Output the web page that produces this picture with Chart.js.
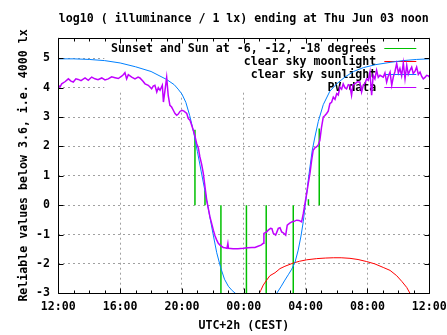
<!DOCTYPE html>
<html><head><meta charset="utf-8">
<script src="https://cdn.jsdelivr.net/npm/chart.js@4"></script>
<style>html,body{margin:0;padding:0;background:#fff;} canvas{display:block}</style>
</head><body>
<canvas id="c" width="447" height="335"></canvas>
<script>
// ---- data (hours after 12:00 of the previous day; log10 illuminance) ----
const titleText = 'log10 ( illuminance / 1 lx) ending at Thu Jun 03 noon';
const xTitle = 'UTC+2h (CEST)';
const yTitle = 'Reliable values below 3.6, i.e. 4000 lx';
const xTickValues = [0, 4, 8, 12, 16, 20, 24];
const xTickLabels = ['12:00', '16:00', '20:00', '00:00', '04:00', '08:00', '12:00'];
const yTickValues = [-3, -2, -1, 0, 1, 2, 3, 4, 5];
const legendLabels = ['Sunset and Sun at -6, -12, -18 degrees', 'clear sky moonlight', 'clear sky sunlight', 'PV data'];

const eventHours = [8.84, 9.49, 10.52, 12.17, 13.45, 15.20, 16.18, 16.88];
const eventEnds  = [2.57, 0.51, -3, -3, -3, -3, 0.2, 2.61];

const moonHours  = [12.95, 13.1, 13.26, 13.48, 13.69, 14.02, 14.34, 14.66, 15.2, 15.6, 16.07, 16.71, 17.3, 17.79, 18.3, 18.87, 19.39, 19.95, 20.48, 21.02, 21.46, 21.89, 22.23, 22.54, 22.75, 22.85];
const moonValues = [-3.05, -2.9, -2.72, -2.55, -2.40, -2.30, -2.16, -2.08, -1.97, -1.91, -1.86, -1.82, -1.80, -1.79, -1.79, -1.81, -1.85, -1.92, -2.00, -2.12, -2.22, -2.40, -2.60, -2.80, -3.0, -3.15];

const sunHours  = [0, 1, 2, 3, 4, 5, 6, 7, 7.5, 7.75, 8, 8.25, 8.5, 8.75, 9, 9.25, 9.5, 9.75, 10, 10.25, 10.5, 10.75, 11, 11.25, 11.5, 11.75,
                   12.8,
                   13.95, 14.13, 14.4, 14.66, 14.9, 15.1, 15.31, 15.52, 15.7, 15.85, 15.96, 16.07, 16.17, 16.28, 16.43, 16.6, 16.82, 17.14, 17.57, 18.01, 18.54, 19.1, 19.73, 20.5, 21.46, 22.3, 23.18, 24];
const sunValues = [4.98, 4.98, 4.96, 4.92, 4.84, 4.71, 4.55, 4.28, 4.10, 3.95, 3.78, 3.50, 3.05, 2.50, 1.82, 1.13, 0.45, -0.25, -0.95, -1.62, -2.12, -2.52, -2.76, -2.91, -3.02, -3.2,
                   null,
                   -3.3, -3.0, -2.78, -2.55, -2.35, -2.18, -1.95, -1.53, -1.05, -0.55, -0.05, 0.40, 0.85, 1.30, 1.87, 2.32, 2.85, 3.42, 3.88, 4.13, 4.36, 4.55, 4.68, 4.78, 4.86, 4.92, 4.96, 4.98];

const pvHours = [0.00,0.11,0.22,0.43,0.65,0.82,0.97,1.14,1.29,1.47,
  1.73,1.94,2.16,2.37,2.57,2.81,3.02,3.23,3.45,3.67,
  3.88,4.10,4.22,4.31,4.42,4.53,4.75,4.96,5.16,5.28,
  5.48,5.61,5.82,5.93,6.04,6.14,6.25,6.37,6.47,6.58,
  6.73,6.80,6.90,7.01,7.11,7.22,7.33,7.44,7.55,7.66,
  7.76,7.87,8.00,8.13,8.31,8.41,8.52,8.63,8.73,8.84,
  8.95,9.06,9.16,9.27,9.38,9.49,9.60,9.70,9.81,9.92,
  10.03,10.14,10.25,10.35,10.46,10.57,10.67,10.78,10.91,10.97,
  11.01,11.30,11.62,11.97,12.27,12.53,12.72,12.92,13.11,13.26,
  13.30,13.48,13.58,13.73,13.82,13.91,14.06,14.15,14.23,14.34,
  14.45,14.55,14.71,14.81,14.95,15.10,15.25,15.42,15.57,15.74,
  15.85,15.96,16.07,16.17,16.28,16.39,16.49,16.60,16.70,16.82,
  16.92,17.03,17.14,17.25,17.36,17.46,17.57,17.68,17.79,17.90,
  18.01,18.11,18.22,18.33,18.43,18.54,18.65,18.76,18.86,18.97,
  19.06,19.19,19.35,19.51,19.62,19.73,19.84,19.95,20.05,20.16,
  20.27,20.37,20.48,20.59,20.70,20.81,21.02,21.13,21.24,21.35,
  21.46,21.57,21.67,21.78,21.89,22.00,22.10,22.21,22.32,22.43,
  22.54,22.64,22.75,22.86,22.96,23.07,23.18,23.29,23.40,23.51,
  23.61,23.72,23.83,23.94,24.00];
const pvValues = [4.08,4.02,4.13,4.20,4.30,4.22,4.19,4.30,4.28,4.24,
  4.33,4.25,4.36,4.30,4.27,4.33,4.26,4.30,4.37,4.34,
  4.31,4.39,4.45,4.51,4.30,4.44,4.36,4.30,4.36,4.33,
  4.22,4.13,4.08,4.02,3.96,4.05,4.08,3.85,4.00,3.91,
  4.08,3.51,3.90,4.35,3.74,3.40,3.34,3.23,3.12,3.06,
  3.10,3.19,3.23,3.20,3.12,2.95,2.89,2.72,2.55,2.35,
  2.10,1.95,1.64,1.40,1.08,0.62,0.17,-0.10,-0.40,-0.62,
  -0.85,-1.05,-1.19,-1.30,-1.36,-1.40,-1.44,-1.45,-1.47,-1.30,
  -1.47,-1.48,-1.48,-1.47,-1.45,-1.44,-1.44,-1.40,-1.36,-1.30,
  -0.96,-0.91,-0.85,-0.79,-0.80,-0.96,-1.02,-0.90,-0.79,-0.77,
  -0.91,-0.94,-1.02,-0.68,-0.62,-0.57,-0.55,-0.51,-0.52,-0.57,
  -0.28,0.06,0.40,0.74,1.08,1.53,1.87,1.95,1.98,2.05,
  2.21,2.66,3.00,3.05,3.12,3.20,3.46,3.50,3.68,3.60,
  3.80,3.75,4.02,3.95,4.13,4.00,3.96,4.10,4.08,3.74,
  4.10,4.13,4.20,4.19,3.85,4.08,4.15,4.30,4.25,4.53,
  3.74,4.42,4.30,4.59,4.35,4.42,4.36,4.50,4.19,4.40,
  4.53,4.08,4.36,4.55,4.82,4.50,4.65,4.40,4.84,4.30,
  4.76,4.45,4.59,4.70,4.48,4.55,4.70,4.45,4.53,4.38,
  4.30,4.35,4.42,4.40,4.36];

// ---- styling ----
const FONT = {family: '"DejaVu Sans Mono", "Liberation Mono", monospace', size: 11.6, weight: 'bold'};
const fontCss = 'bold 11.6px "DejaVu Sans Mono", "Liberation Mono", monospace';
const COLORS = {event: '#00c000', moon: '#ff0000', sun: '#0080ff', pv: '#c000ff'};

const pts = (xs, ys) => xs.map((h, i) => ({x: h, y: ys[i]}));
const eventPts = [];
eventHours.forEach((h, i) => { eventPts.push({x: h, y: 0}, {x: h, y: eventEnds[i]}, {x: h, y: null}); });

const datasets = [
  {label: legendLabels[3], data: pts(pvHours, pvValues), borderColor: COLORS.pv, borderWidth: 1.5},
  {label: legendLabels[2], data: pts(sunHours, sunValues), borderColor: COLORS.sun, borderWidth: 1},
  {label: legendLabels[1], data: pts(moonHours, moonValues), borderColor: COLORS.moon, borderWidth: 1},
  {label: legendLabels[0], data: eventPts, borderColor: COLORS.event, borderWidth: 1.5}
];
const legendColors = [COLORS.event, COLORS.moon, COLORS.sun, COLORS.pv];

const gnuplotFrame = {
  id: 'gnuplotFrame',
  beforeDatasetsDraw(chart) {
    const {ctx, chartArea: a} = chart;
    ctx.save();
    // opaque key box hides the grid
    ctx.fillStyle = '#fff';
    ctx.fillRect(a.left + 46, a.top, a.right - a.left - 46, 54);
    ctx.font = fontCss;
    ctx.textAlign = 'right';
    ctx.textBaseline = 'middle';
    legendLabels.forEach((t, i) => {
      const yy = Math.round(a.top + 10 + i * 13) + 0.5;
      ctx.fillStyle = '#000';
      ctx.fillText(t, a.right - 53, yy);
      ctx.strokeStyle = legendColors[i];
      ctx.lineWidth = 1;
      ctx.beginPath();
      ctx.moveTo(a.right - 45, yy);
      ctx.lineTo(a.right - 13, yy);
      ctx.stroke();
    });
    ctx.restore();
  },
  afterDatasetsDraw(chart) {
    const {ctx, chartArea: a, scales: {x, y}} = chart;
    const l = Math.round(a.left) + 0.5, r = Math.round(a.right) + 0.5;
    const t = Math.round(a.top) + 0.5, b = Math.round(a.bottom) + 0.5;
    ctx.save();
    ctx.strokeStyle = '#000';
    ctx.lineWidth = 1;
    ctx.beginPath();
    ctx.rect(l, t, r - l, b - t);
    for (let h = 0; h <= 24; h++) {
      const px = Math.round(x.getPixelForValue(h)) + 0.5;
      const len = (h % 4 === 0) ? 5 : 3;
      ctx.moveTo(px, b); ctx.lineTo(px, b - len);
      ctx.moveTo(px, t); ctx.lineTo(px, t + len);
    }
    yTickValues.forEach(v => {
      const py = Math.round(y.getPixelForValue(v)) + 0.5;
      ctx.moveTo(l, py); ctx.lineTo(l + 5, py);
      ctx.moveTo(r, py); ctx.lineTo(r - 5, py);
    });
    ctx.stroke();
    ctx.restore();
  },
  afterDraw(chart) {
    const {ctx, chartArea: a} = chart;
    ctx.save();
    ctx.font = fontCss;
    ctx.fillStyle = '#000';
    ctx.textAlign = 'center';
    ctx.textBaseline = 'middle';
    ctx.fillText(titleText, (a.left + a.right) / 2, 18.5);
    ctx.restore();
  }
};

new Chart(document.getElementById('c'), {
  type: 'line',
  data: {datasets},
  options: {
    responsive: false,
    animation: false,
    devicePixelRatio: 1,
    layout: {padding: {left: 0, top: 37.7, right: 17.7, bottom: 0}},
    elements: {point: {radius: 0}, line: {tension: 0, fill: false}},
    datasets: {line: {spanGaps: false}},
    plugins: {legend: {display: false}, title: {display: false}, tooltip: {enabled: false}},
    scales: {
      x: {
        type: 'linear', min: 0, max: 24,
        afterBuildTicks: s => { s.ticks = xTickValues.map(v => ({value: v})); },
        afterFit: s => { s.height = 41.7; s.paddingLeft = 0; s.paddingRight = 0; },
        grid: {color: '#a0a0a0', drawTicks: false, lineWidth: 1},
        border: {display: false, dash: [2, 3]},
        ticks: {font: FONT, color: '#000', padding: 7, maxRotation: 0, autoSkip: false,
                callback: (v, i) => xTickLabels[i]},
        title: {display: true, text: xTitle, font: FONT, color: '#000', padding: {top: 0, bottom: 2.3}}
      },
      y: {
        type: 'linear', min: -3, max: 5.7,
        afterBuildTicks: s => { s.ticks = yTickValues.map(v => ({value: v})); },
        afterFit: s => { s.width = 58.3; s.paddingTop = 0; s.paddingBottom = 0; },
        grid: {color: '#a0a0a0', drawTicks: false, lineWidth: 1},
        border: {display: false, dash: [2, 3]},
        ticks: {font: FONT, color: '#000', padding: 8.3, autoSkip: false},
        title: {display: true, text: yTitle, font: FONT, color: '#000', padding: {top: 17, bottom: 0}}
      }
    }
  },
  plugins: [gnuplotFrame]
});
</script>
</body></html>
